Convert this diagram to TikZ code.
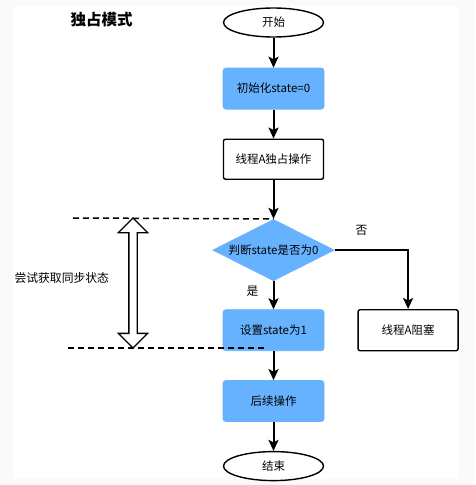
\documentclass[tikz,border=0pt]{standalone}
\usepackage{fontspec}
\setmainfont{Noto Sans CJK SC}
\usetikzlibrary{arrows.meta, positioning, shapes.geometric, shapes.arrows}
\definecolor{fcblue}{HTML}{66B2FF}
\definecolor{fcpage}{HTML}{FAFAFA}

\begin{document}
\begin{tikzpicture}[x=1pt, y=1pt,
    process/.style={rectangle, rounded corners=3pt, draw=fcblue, fill=fcblue,
                    minimum width=101pt, minimum height=41pt, align=center,
                    font=\fontsize{11.5}{14}\selectfont, line width=0.8pt},
    action/.style={rectangle, rounded corners=2pt, draw=black, fill=white,
                   minimum width=100pt, minimum height=40pt, align=center,
                   font=\fontsize{11.5}{14}\selectfont, line width=1.4pt},
    terminal/.style={ellipse, draw=black, fill=white, minimum width=100pt,
                     minimum height=29pt, inner sep=0pt,
                     font=\fontsize{11.5}{14}\selectfont, line width=1.4pt},
    decision/.style={diamond, fill=fcblue, minimum width=123pt, minimum height=62pt,
                     aspect=2, inner sep=0pt, font=\fontsize{11.5}{14}\selectfont},
    arrow/.style={-{Stealth[length=11pt, width=10pt, inset=2.5pt]}, line width=2pt, black},
    guide/.style={dash pattern=on 6pt off 4pt, line width=1.5pt, black},
    syncarrow/.style={double arrow, draw=black, fill=white, line width=1.3pt,
                      rotate=90, inner xsep=0pt, inner ysep=3.5pt,
                      double arrow head extend=10.5pt, double arrow head indent=0pt},
    lbl/.style={font=\fontsize{11.8}{14}\selectfont, inner sep=0pt}
  ]
    \useasboundingbox (0,0) rectangle (475,-485);
    \fill[fcpage] (0,0) rectangle (475,-485);
    \fill[white] (13,-6) rectangle (459,-479);

    \node[font=\fontsize{15.5}{18}\selectfont\bfseries, inner sep=0pt] (title) at (101.5,-20) {独占模式};

    \node[terminal] (start) at (273.5,-22.5) {开始};
    \node[process, below=30pt of start] (init) {初始化state=0};
    \node[action, below=29pt of init] (opA) {线程A独占操作};
    \node[decision, below=39pt of opA] (judge) {判断state是否为0};
    \node[process, below=28pt of judge] (set) {设置state为1};
    \node[action, minimum height=41pt, right=33pt of set] (block) {线程A阻塞};
    \node[process, below=29pt of set] (follow) {后续操作};
    \node[terminal, below=29pt of follow] (finish) {结束};

    \draw[arrow] (start) -- (init);
    \draw[arrow] (init) -- (opA);
    \draw[arrow] (opA) -- (judge);
    \draw[arrow] (judge) -- node[lbl, pos=0.35, left=14pt] {是} (set);
    \draw[arrow] (judge.east) -| node[lbl, pos=0.18, above=14pt] {否} (block.north);
    \draw[arrow] (set) -- (follow);
    \draw[arrow] (follow) -- (finish);

    \coordinate (gtop) at (73,-218);
    \coordinate (gbot) at (68,-348);
    \coordinate (gbotend) at (267,-348);
    \draw[guide] (gtop) -- (judge.north);
    \draw[guide] (gbot) -- (gbotend);

    \node[syncarrow, minimum height=130pt] (sync) at (133,-283) {};
    \node[lbl, left=19pt of sync.north, yshift=5pt] (synclbl) {尝试获取同步状态};
  \end{tikzpicture}
\end{document}
